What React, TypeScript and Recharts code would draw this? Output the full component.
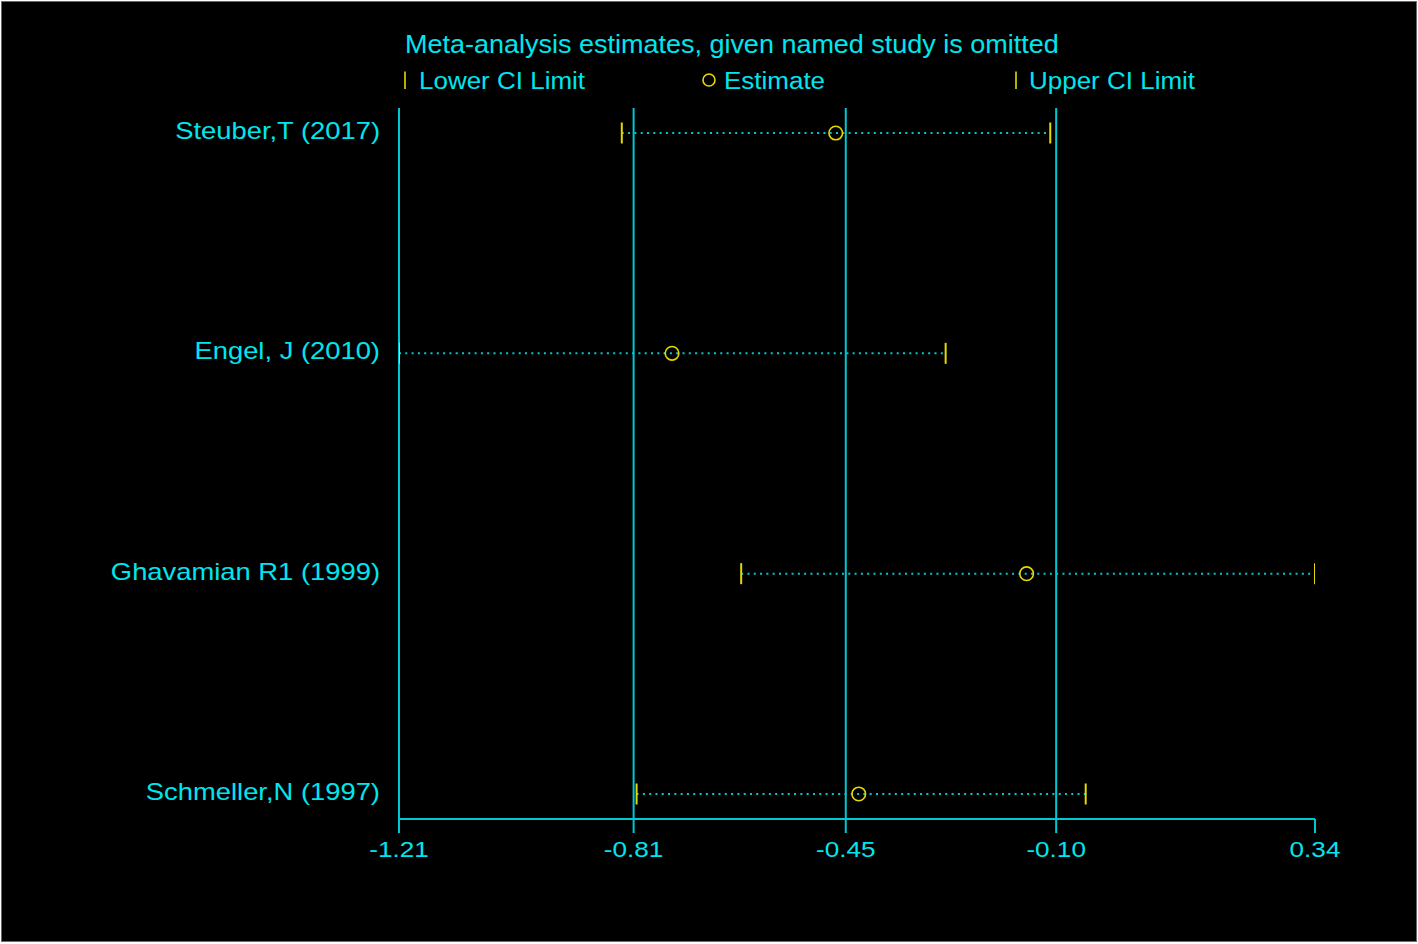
import { ComposedChart, XAxis, YAxis, Scatter, ReferenceLine } from "recharts";

// ─── Data ─────────────────────────────────────────────────────────────────────

const studies = [
  "Steuber,T (2017)",
  "Engel, J (2010)",
  "Ghavamian R1 (1999)",
  "Schmeller,N (1997)",
];
const lowerCI = [-0.833, -1.21, -0.631, -0.808];
const estimates = [-0.471, -0.748, -0.148, -0.432];
const upperCI = [-0.108, -0.285, 0.34, -0.048];

// axis ticks: min lower, overall lower CI, overall estimate, overall upper CI, max upper
const axisTicks = [-1.21, -0.813, -0.454, -0.098, 0.34];
const gridTicks = axisTicks.slice(0, 4);

const title = "Meta-analysis estimates, given named study is omitted";
const legendLabels = ["Lower CI Limit", "Estimate", "Upper CI Limit"];

// ─── Styles ───────────────────────────────────────────────────────────────────

const CYAN_TEXT = "#00E6EE";
const CYAN_LINE = "#00C8D2";
const YELLOW = "#E6D800";
const FONT = "'Liberation Sans', Arial, Helvetica, sans-serif";

const rows = studies.map((name, i) => ({
  name,
  y: studies.length - i,
  lower: lowerCI[i],
  est: estimates[i],
  upper: upperCI[i],
}));

const lowerPts = rows.map((r) => ({ x: r.lower, y: r.y }));
const estPts = rows.map((r) => ({ x: r.est, y: r.y }));
const upperPts = rows.map((r) => ({ x: r.upper, y: r.y }));

// ─── Marks ────────────────────────────────────────────────────────────────────

function CapMark({ cx, cy }: any) {
  if (cx == null || cy == null) return null;
  return (
    <line x1={cx} x2={cx} y1={cy - 10.5} y2={cy + 10.5} stroke={YELLOW} strokeWidth={2} />
  );
}

function EstimateMark({ cx, cy }: any) {
  if (cx == null || cy == null) return null;
  return <circle cx={cx} cy={cy} r={6.8} fill="none" stroke={YELLOW} strokeWidth={1.6} />;
}

function StudyTick({ x, y, payload }: any) {
  const row = rows.find((r) => r.y === payload.value);
  if (!row) return null;
  return (
    <text
      transform={`translate(${x},${y + 6}) scale(1.19,1)`}
      textAnchor="end"
      fill={CYAN_TEXT}
      fontSize={23}
      fontFamily={FONT}
    >
      {row.name}
    </text>
  );
}

function ValueTick({ x, y, payload }: any) {
  return (
    <text
      transform={`translate(${x},${y + 24}) scale(1.16,1)`}
      textAnchor="middle"
      fill={CYAN_TEXT}
      fontSize={22.5}
      fontFamily={FONT}
    >
      {Number(payload.value).toFixed(2)}
    </text>
  );
}

// ─── Component ────────────────────────────────────────────────────────────────

export default function App() {
  return (
    <div style={{ position: "absolute", left: 0, top: 0, width: 1418, height: 944, background: "#fff" }}>
      <div
        style={{
          position: "absolute",
          left: 1,
          top: 1,
          width: 1416,
          height: 941,
          boxSizing: "border-box",
          border: "1px solid #6a6a6a",
          background: "#000",
        }}
      />

      <div style={{ position: "absolute", left: 0, top: 0 }}>
        <ComposedChart
          width={1418}
          height={944}
          margin={{ top: 108, right: 103, bottom: 75, left: 0 }}
        >
          <XAxis
            type="number"
            dataKey="x"
            domain={[-1.21, 0.34]}
            allowDataOverflow
            ticks={axisTicks}
            interval={0}
            height={50}
            stroke={CYAN_LINE}
            axisLine={{ stroke: CYAN_LINE, strokeWidth: 2 }}
            tickLine={{ stroke: CYAN_LINE, strokeWidth: 2 }}
            tickSize={14}
            tickMargin={0}
            tick={<ValueTick />}
          />
          <YAxis
            type="number"
            dataKey="y"
            domain={[0.8865, 4.1135]}
            allowDataOverflow
            ticks={[1, 2, 3, 4]}
            interval={0}
            width={399}
            axisLine={false}
            tickLine={false}
            tickSize={0}
            tickMargin={19}
            tick={<StudyTick />}
          />

          {gridTicks.map((v) => (
            <ReferenceLine key={`g${v}`} x={v} stroke={CYAN_LINE} strokeWidth={2} />
          ))}

          {rows.map((r) => (
            <ReferenceLine
              key={`ci${r.y}`}
              segment={[
                { x: r.lower, y: r.y },
                { x: r.upper, y: r.y },
              ]}
              stroke={CYAN_LINE}
              strokeWidth={2}
              strokeDasharray="2 4.3"
              ifOverflow="visible"
            />
          ))}

          <Scatter data={lowerPts} shape={(p: any) => <CapMark {...p} />} isAnimationActive={false} />
          <Scatter data={upperPts} shape={(p: any) => <CapMark {...p} />} isAnimationActive={false} />
          <Scatter data={estPts} shape={(p: any) => <EstimateMark {...p} />} isAnimationActive={false} />
        </ComposedChart>
      </div>

      {/* Title and legend */}
      <svg
        width={1418}
        height={110}
        style={{ position: "absolute", left: 0, top: 0, pointerEvents: "none" }}
      >
        <text
          transform="translate(405,52.5) scale(1.08,1)"
          fill={CYAN_TEXT}
          fontSize={25}
          fontFamily={FONT}
        >
          {title}
        </text>

        <line x1={405} x2={405} y1={71.5} y2={89} stroke={YELLOW} strokeWidth={1.6} />
        <text transform="translate(419,88.5) scale(1.13,1)" fill={CYAN_TEXT} fontSize={23} fontFamily={FONT}>
          {legendLabels[0]}
        </text>

        <circle cx={709} cy={80} r={6} fill="none" stroke={YELLOW} strokeWidth={1.6} />
        <text transform="translate(724,88.5) scale(1.13,1)" fill={CYAN_TEXT} fontSize={23} fontFamily={FONT}>
          {legendLabels[1]}
        </text>

        <line x1={1016} x2={1016} y1={71.5} y2={89} stroke={YELLOW} strokeWidth={1.6} />
        <text transform="translate(1029,88.5) scale(1.13,1)" fill={CYAN_TEXT} fontSize={23} fontFamily={FONT}>
          {legendLabels[2]}
        </text>
      </svg>
    </div>
  );
}
